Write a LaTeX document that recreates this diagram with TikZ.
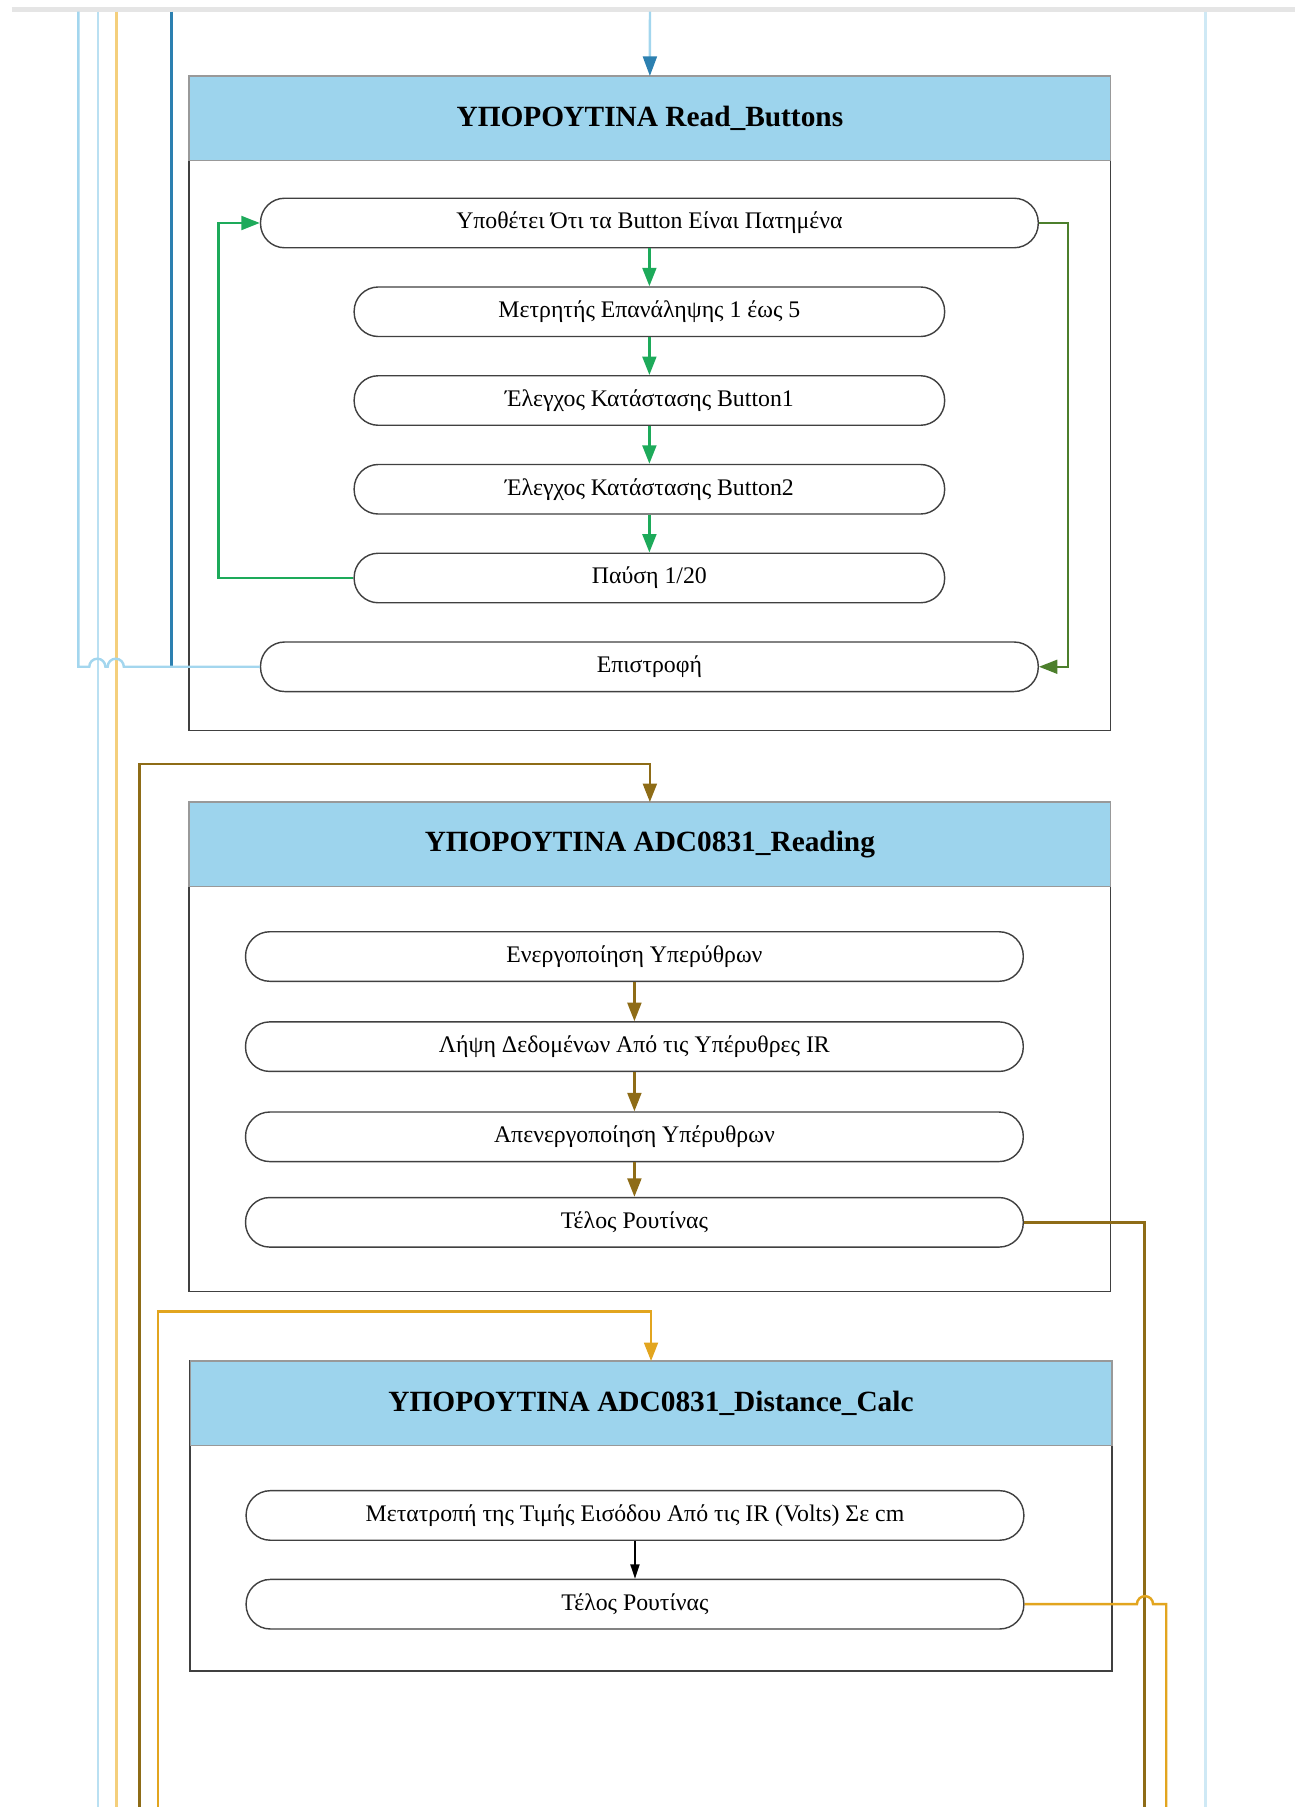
\documentclass[tikz,border=0pt]{standalone}
\usepackage{fontspec}
\setmainfont{Liberation Serif}
\usetikzlibrary{arrows.meta,positioning}
\definecolor{skyhead}{HTML}{9DD4ED}
\definecolor{lineblue}{HTML}{A3D6EE}
\definecolor{paleblue}{HTML}{CFE9F5}
\definecolor{deepblue}{HTML}{2C80B0}
\definecolor{loopgreen}{HTML}{1DAA5A}
\definecolor{backgreen}{HTML}{4C7F2C}
\definecolor{ochre}{HTML}{8E6C17}
\definecolor{gold}{HTML}{E2A51F}
\definecolor{palegold}{HTML}{F4CF7C}

\begin{document}
\begin{tikzpicture}[
  x=0.02cm, y=-0.02cm,
  node distance=0.656cm,
  action/.style={rectangle, draw=black!75, rounded corners=0.42cm, fill=white,
    minimum height=0.86cm, line width=0.7pt,
    font=\fontsize{11.75}{13}\selectfont},
  wide/.style={action, minimum width=13.5cm},
  narrow/.style={action, minimum width=10.25cm},
  frame/.style={rectangle, draw=black!75, line width=0.7pt, minimum width=16cm,
    outer sep=0pt, anchor=north west},
  head/.style={rectangle, fill=skyhead, draw=black!40, line width=0.6pt,
    minimum width=16cm, minimum height=1.46cm, outer sep=0pt, anchor=north,
    font=\fontsize{14.5}{16}\selectfont\bfseries},
  wire/.style={line width=1.2pt},
  >={Triangle[length=0.32cm, width=0.24cm]}
]
  \useasboundingbox (0,0) rectangle (1132,1568);
  \draw[black!10, line width=0.08cm] (10,8) -- (1124,8);

  \foreach \x/\c/\n in {85/lineblue!75/a, 101/palegold/b, 1046/paleblue/c} {
    \coordinate (pass\n top) at (\x,10);
    \coordinate (pass\n bot) at (\x,1568);
    \draw[wire, \c] (pass\n top) -- (pass\n bot);
  }

  \node[frame, minimum height=11.36cm] (RB) at (164,66) {};
  \node[head] (RBhead) at (RB.north) {ΥΠΟΡΟΥΤΙΝΑ Read\_Buttons};

  \node[wide] (assume) at (563.5,193.5) {Υποθέτει Ότι τα Button Είναι Πατημένα};
  \node[narrow, below=of assume] (count) {Μετρητής Επανάληψης 1 έως 5};
  \node[narrow, below=of count] (chkA) {Έλεγχος Κατάστασης Button1};
  \node[narrow, below=of chkA] (chkB) {Έλεγχος Κατάστασης Button2};
  \node[narrow, below=of chkB] (pause) {Παύση 1/20};
  \node[wide, below=of pause] (ret) {Επιστροφή};

  \coordinate (inTop) at (564,10);
  \draw[wire, lineblue, -{Triangle[color=deepblue, length=0.34cm, width=0.24cm]}]
    (inTop) -- (RBhead.north);

  \draw[wire, loopgreen, ->] (assume) -- (count);
  \draw[wire, loopgreen, ->] (count) -- (chkA);
  \draw[wire, loopgreen, ->] (chkA) -- (chkB);
  \draw[wire, loopgreen, ->] (chkB) -- (pause);
  \draw[wire, loopgreen, ->] (pause.west) -- ++(-117,0) |- (assume.west);
  \draw[wire, backgreen, ->] (assume.east) -- ++(25,0) |- (ret.east);

  \coordinate (mergeTop) at (149,10);
  \coordinate (retTop) at (68,10);
  \draw[wire, deepblue] (mergeTop) -- (mergeTop |- ret.west);
  \draw[wire, lineblue] (ret.west) -- ++(-118,0)
    arc[start angle=0, end angle=180, radius=0.14cm] -- ++(-2,0)
    arc[start angle=0, end angle=180, radius=0.14cm] -| (retTop);

  \node[frame, minimum height=8.5cm] (AD) at (164,696) {};
  \node[head] (ADhead) at (AD.north) {ΥΠΟΡΟΥΤΙΝΑ ADC0831\_Reading};

  \node[wide] (irOn) at (550.5,830) {Ενεργοποίηση Υπερύθρων};
  \node[wide, below=0.68cm of irOn] (irRead) {Λήψη Δεδομένων Από τις Υπέρυθρες IR};
  \node[wide, below=0.68cm of irRead] (irOff) {Απενεργοποίηση Υπέρυθρων};
  \node[wide, below=0.6cm of irOff] (endRead) {Τέλος Ρουτίνας};

  \coordinate (ochreBot) at (121,1568);
  \coordinate (ochreOut) at (993,1568);
  \draw[wire, ochre, ->] (ochreBot) -- ++(0,-905) -| (ADhead.north);
  \draw[wire, ochre, ->] (irOn) -- (irRead);
  \draw[wire, ochre, ->] (irRead) -- (irOff);
  \draw[wire, ochre, ->] (irOff) -- (endRead);
  \draw[wire, ochre] (endRead.east) -| (ochreOut);

  \node[frame, minimum height=5.38cm] (DC) at (165,1181) {};
  \node[head] (DChead) at (DC.north) {ΥΠΟΡΟΥΤΙΝΑ ADC0831\_Distance\_Calc};

  \node[wide] (conv) at (551,1315) {Μετατροπή της Τιμής Εισόδου Από τις IR (Volts) Σε cm};
  \node[wide, below=of conv] (endCalc) {Τέλος Ρουτίνας};

  \coordinate (goldBot) at (137,1568);
  \coordinate (goldOut) at (1012,1568);
  \draw[wire, gold, ->] (goldBot) -- ++(0,-430) -| (DChead.north);
  \draw[line width=0.7pt, -{Triangle[length=0.25cm, width=0.16cm]}] (conv) -- (endCalc);
  \draw[wire, gold] (endCalc.east) -- ++(97.5,0)
    arc[start angle=180, end angle=0, radius=0.14cm] -| (goldOut);
\end{tikzpicture}
\end{document}
